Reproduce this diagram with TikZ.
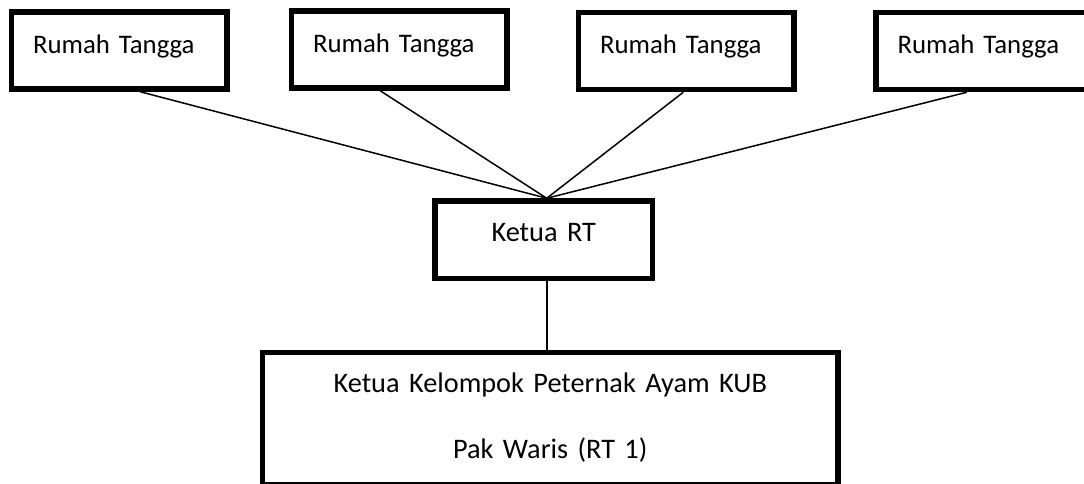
\documentclass[tikz,border=0pt]{standalone}
\usepackage{fontspec}
\setmainfont{Carlito}
\usepackage{tikz}

\begin{document}
\begin{tikzpicture}[x=1pt, y=-1pt,
  box/.style={draw, line width=5.5pt, inner ysep=0pt, anchor=north west, font=\fontsize{28.3}{34}\selectfont},
  rumah/.style={box, minimum width=215.5pt, minimum height=77pt, inner xsep=21.5pt, text width=172.5pt, align=left, text height=41pt, text depth=36pt, font=\fontsize{26.8}{32}\selectfont},
  link/.style={line width=1.5pt}]
\useasboundingbox (0,0) rectangle (1084,483);
\clip (0,0) rectangle (1084,483);
% Rumah tangga - top row
\node[rumah] (rt1) at (8.75,9.25) {Rumah Tangga};
\node[rumah] (rt2) at (288.75,8.25) {Rumah Tangga};
\node[rumah] (rt3) at (575.75,9.75) {Rumah Tangga};
\node[rumah] (rt4) at (873.25,9.75) {Rumah Tangga};
%
\node[box, minimum width=217.5pt, minimum height=77.5pt, inner xsep=10pt, text width=197.5pt, align=center, text height=40pt, text depth=37.5pt] (ketua) at (432.25,198.25) {Ketua RT};
%
\node[box, minimum width=575.5pt, inner xsep=10pt, text width=555.5pt, align=center, text height=40.2pt, text depth=92.3pt, font=\fontsize{28.3}{65.6}\selectfont] (kelompok) at (259.75,349.75) {Ketua Kelompok Peternak Ayam KUB\\Pak Waris (RT 1)};
% Garis penghubung
\draw[link] ([xshift=21pt]rt1.south) -- ([xshift=3pt]ketua.north);
\draw[link] ([xshift=-19pt]rt2.south) -- ([xshift=3pt]ketua.north);
\draw[link] ([xshift=-3pt]rt3.south) -- ([xshift=3pt]ketua.north);
\draw[link] ([xshift=-17pt]rt4.south) -- ([xshift=3pt]ketua.north);
\draw[link] ([xshift=3pt]ketua.south) -- ([xshift=3pt]ketua.south |- kelompok.north);
\end{tikzpicture}
\end{document}
